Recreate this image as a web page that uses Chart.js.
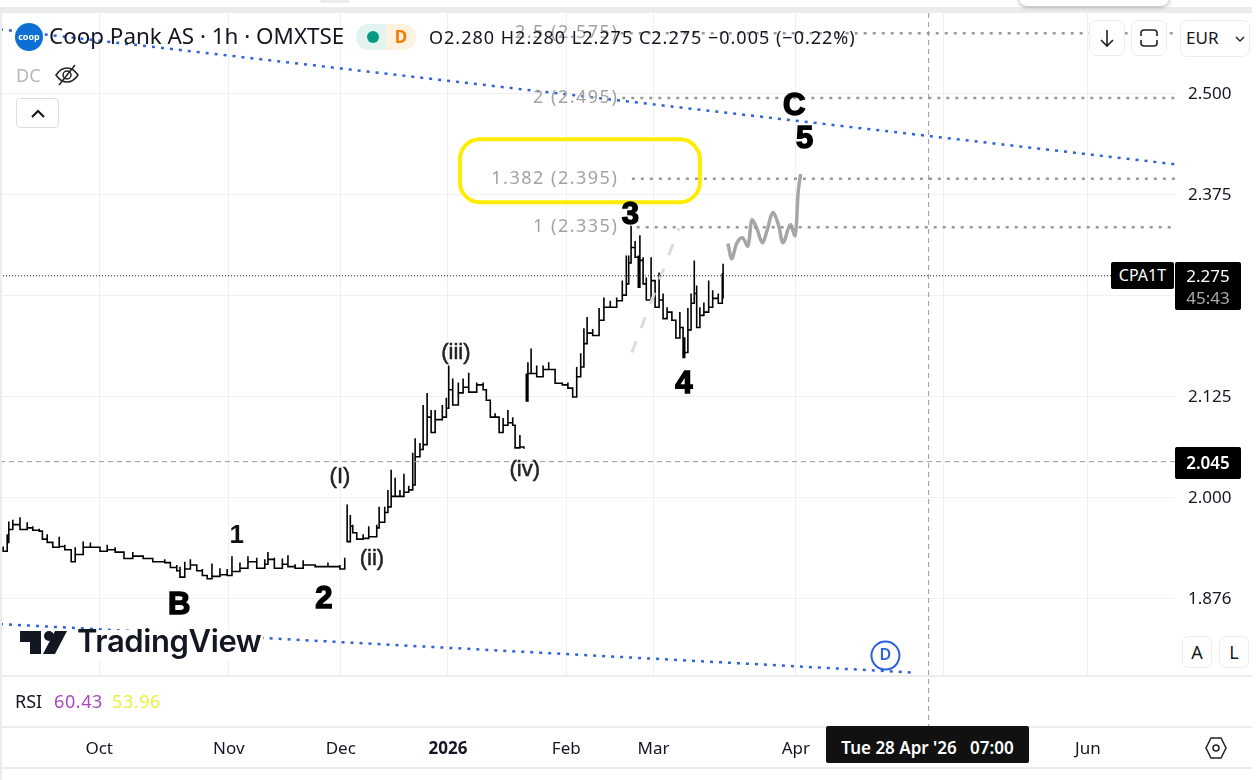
<!DOCTYPE html>
<html>
<head>
<meta charset="utf-8">
<title>Coop Pank AS</title>
<script src="https://cdn.jsdelivr.net/npm/chart.js@4"></script>
<style>
  html, body { margin: 0; padding: 0; background: #fff; overflow: hidden; }
  body { width: 1259px; height: 780px; position: relative; font-family: "Noto Sans", sans-serif; color: #131722; }
  canvas { position: absolute; left: 0; top: 0; }
  .abs { position: absolute; white-space: nowrap; line-height: 1; }
  .band { position: absolute; background: #ececec; }
  .btn { position: absolute; box-sizing: border-box; background: #fff; border: 1px solid #ececec; border-radius: 7px; text-align: center; }
  .tag { position: absolute; background: #000; color: #fff; border-radius: 2px; box-sizing: border-box; text-align: center; white-space: nowrap; }
</style>
</head>
<body>
<canvas id="chart" width="1259" height="780"></canvas>

<!-- window edges and pane separators -->
<div class="band" style="left:0;top:7px;width:1252px;height:6px"></div>
<div class="band" style="left:0;top:7px;width:2px;height:773px"></div>
<div class="band" style="left:320px;top:0;width:30px;height:3px;border-radius:0 0 8px 8px"></div>
<div class="abs" style="left:1019px;top:-12px;width:150px;height:18px;background:#fff;border-radius:8px;box-shadow:0 1px 4px rgba(0,0,0,.35)"></div>
<div class="band" style="left:2px;top:675px;width:1250px;height:2px"></div>
<div class="band" style="left:2px;top:726px;width:1250px;height:2px"></div>
<div class="band" style="left:2px;top:767px;width:1250px;height:2px"></div>

<!-- header -->
<div class="abs" style="left:15px;top:23px;width:28px;height:28px;border-radius:50%;background:#0b6fd3;color:#fff;font-size:9px;font-weight:700;line-height:28px;text-align:center">coop</div>
<div class="abs" style="left:49px;top:25px;font-size:22.4px">Coop Pank AS · 1h · OMXTSE</div>
<div class="abs" style="left:356px;top:24px;width:30px;height:26px;background:#e3f3f0;border-radius:13px 0 0 13px"></div>
<div class="abs" style="left:386px;top:24px;width:30px;height:26px;background:#fdf1df;border-radius:0 13px 13px 0;color:#f57c00;font-size:17px;font-weight:700;line-height:26px;text-align:center">D</div>
<div class="abs" style="left:367px;top:31px;width:12px;height:12px;border-radius:50%;background:#089981"></div>
<div class="abs" style="left:429px;top:28px;font-size:18px;letter-spacing:1px">O2.280 H2.280 L2.275 C2.275 −0.005 (−0.22%)</div>
<div class="abs" style="left:16px;top:66px;font-size:18px;color:#b8b8b8">DC</div>
<svg class="abs" style="left:54px;top:62px" width="26" height="26" viewBox="0 0 26 26" fill="none" stroke="#222" stroke-width="1.5"><path d="M2 13c4-6 8-7 11-7s7 1 11 7c-4 6-8 7-11 7s-7-1-11-7z"/><circle cx="13" cy="13" r="4"/><path d="M5 23L21 3"/></svg>
<div class="btn" style="left:16px;top:98px;width:43px;height:30px;border-color:#ddd;border-radius:4px"><svg width="16" height="28" viewBox="0 0 16 28" fill="none" stroke="#111" stroke-width="2"><path d="M2 18l6-6 6 6"/></svg></div>

<!-- top right buttons -->
<div class="btn" style="left:1089px;top:20px;width:36px;height:36px"><svg width="20" height="34" viewBox="0 0 20 34" fill="none" stroke="#222" stroke-width="1.6"><path d="M10 9v16M4 19l6 6 6-6"/></svg></div>
<div class="btn" style="left:1131px;top:20px;width:36px;height:36px"><svg width="20" height="34" viewBox="0 0 20 34" fill="none" stroke="#222" stroke-width="1.6"><path d="M2 15v-3q0-3 3-3h10q3 0 3 3v3M2 19v3q0 3 3 3h10q3 0 3-3v-3"/></svg></div>
<div class="btn" style="left:1180px;top:20px;width:70px;height:37px;text-align:left;padding:8px 0 0 5px;font-size:17px;line-height:1">EUR<svg style="position:absolute;left:54px;top:14px" width="10" height="8" viewBox="0 0 10 8" fill="none" stroke="#222" stroke-width="1.5"><path d="M1 2l4 4 4-4"/></svg></div>

<!-- price tags -->
<div class="tag" style="left:1111px;top:262px;width:63px;height:27px;font-size:16px;line-height:27px">CPA1T</div>
<div class="tag" style="left:1175px;top:262px;width:66px;height:48px;font-size:17px;line-height:22px;padding-top:3px">2.275<br><span style="color:#aaa">45:43</span></div>
<div class="tag" style="left:1175px;top:447px;width:66px;height:32px;font-size:17px;line-height:32px;font-weight:600">2.045</div>

<!-- watermark -->
<div class="abs" style="left:18px;top:630px;width:245px;height:31px;background:#fff"></div>
<svg class="abs" style="left:20px;top:630px" width="48" height="25" viewBox="0 0 48 25" fill="#131722"><path d="M0 1h21v23H10V12H0z"/><circle cx="29" cy="6" r="5"/><path d="M35 1h12L35 24H23z"/></svg>
<div class="abs" style="left:77px;top:625px;font-family:Inter,sans-serif;font-size:31px;font-weight:600;letter-spacing:-.4px">TradingView</div>

<!-- small corner buttons -->
<div class="btn" style="left:1182px;top:636px;width:30px;height:32px;font-size:18px;line-height:31px">A</div>
<div class="btn" style="left:1219px;top:636px;width:30px;height:32px;font-size:18px;line-height:31px">L</div>

<!-- RSI legend -->
<div class="abs" style="left:15px;top:692px;font-size:18px">RSI</div>
<div class="abs" style="left:54px;top:692px;font-size:18px;letter-spacing:.6px;color:#ab47bc">60.43</div>
<div class="abs" style="left:112px;top:692px;font-size:18px;letter-spacing:.6px;color:#e9f03c">53.96</div>

<!-- crosshair time tag and settings -->
<div class="tag" style="left:826px;top:726px;width:203px;height:37px;font-size:17px;line-height:44px;background:#111;font-weight:600">Tue 28 Apr '26&nbsp;&nbsp;&nbsp;07:00</div>
<svg class="abs" style="left:1204px;top:736px" width="24" height="24" viewBox="0 0 24 24" fill="none" stroke="#222" stroke-width="1.5"><path d="M7 2h10l5 10-5 10H7L2 12z"/><circle cx="12" cy="12" r="3"/></svg>

<script>
// Time axis is in hourly bars, price axis in EUR
const barMin = 0;
const barMax = 1469;
const priceMin = 1.7809;
const priceMax = 2.6002;

const monthBars = [124, 286, 426, 560, 708, 817, 995, 1179, 1360];
const monthLabels = ["Oct", "Nov", "Dec", "2026", "Feb", "Mar", "Apr", "May", "Jun"];
const priceTicks = [1.875, 2.0, 2.125, 2.25, 2.375, 2.5];
const priceTickLabels = ["1.876", "2.000", "2.125", "2.250", "2.375", "2.500"];

// Price history: bar number, high, low
const bars = [4, 9, 11, 16, 25, 34, 41, 49, 53, 59, 66, 74, 81, 89, 94, 104, 113, 125, 134, 144, 155, 166, 179, 191, 206, 213, 221, 225, 231, 238, 246, 253, 259, 265, 275, 284, 290, 300, 310, 321, 331, 335, 343, 353, 360, 369, 379, 394, 410, 425, 431,
  434, 438, 441, 446, 454, 461, 471, 474, 481, 485, 489, 494, 500, 505, 511, 516, 519, 525, 529, 534, 539, 544, 553, 558, 561, 566, 573, 579, 586, 596, 604, 608, 613, 619, 624, 629, 635, 641, 644, 650, 655,
  658, 660, 664, 671, 679, 686, 694, 703, 710, 716, 721, 726, 730, 734, 741, 749, 755, 763, 771, 778, 783, 786, 789, 794, 798, 800, 804, 808, 814, 819, 824, 829, 834, 840, 845, 850, 854, 856, 860, 864, 868, 871, 875, 880, 886, 891, 898, 903, 904];
const highs = [1.940, 1.955, 1.971, 1.973, 1.976, 1.970, 1.965, 1.962, 1.958, 1.955, 1.945, 1.952, 1.942, 1.934, 1.939, 1.946, 1.945, 1.940, 1.942, 1.939, 1.933, 1.933, 1.929, 1.925, 1.924, 1.919, 1.917, 1.915, 1.921, 1.924, 1.917, 1.912, 1.905, 1.919, 1.913, 1.912, 1.928, 1.920, 1.928, 1.926, 1.924, 1.933, 1.926, 1.925, 1.929, 1.918, 1.923, 1.918, 1.920, 1.917, 1.926,
  1.992, 1.979, 1.967, 1.958, 1.955, 1.965, 1.967, 1.989, 1.989, 2.010, 2.035, 2.025, 2.010, 2.030, 2.015, 2.056, 2.074, 2.068, 2.115, 2.130, 2.109, 2.109, 2.115, 2.124, 2.164, 2.148, 2.143, 2.148, 2.155, 2.143, 2.143, 2.134, 2.115, 2.105, 2.100, 2.099, 2.109, 2.100, 2.090, 2.078, 2.063,
  2.154, 2.168, 2.185, 2.164, 2.164, 2.168, 2.158, 2.143, 2.143, 2.137, 2.162, 2.179, 2.210, 2.224, 2.209, 2.235, 2.248, 2.244, 2.248, 2.269, 2.300, 2.300, 2.337, 2.318, 2.300, 2.325, 2.298, 2.273, 2.298, 2.260, 2.279, 2.253, 2.236, 2.230, 2.220, 2.230, 2.199, 2.199, 2.235, 2.253, 2.294, 2.263, 2.236, 2.242, 2.269, 2.257, 2.253, 2.278, 2.290];
const lows = [1.934, 1.945, 1.961, 1.967, 1.961, 1.963, 1.960, 1.959, 1.949, 1.945, 1.939, 1.940, 1.936, 1.921, 1.930, 1.939, 1.939, 1.934, 1.936, 1.933, 1.925, 1.928, 1.925, 1.921, 1.920, 1.914, 1.910, 1.902, 1.912, 1.917, 1.910, 1.904, 1.900, 1.903, 1.905, 1.904, 1.909, 1.913, 1.921, 1.913, 1.918, 1.924, 1.913, 1.918, 1.915, 1.913, 1.917, 1.915, 1.915, 1.912, 1.915,
  1.946, 1.965, 1.957, 1.949, 1.950, 1.952, 1.963, 1.970, 1.982, 1.989, 2.002, 2.002, 2.002, 2.007, 2.010, 2.016, 2.051, 2.060, 2.066, 2.100, 2.081, 2.097, 2.100, 2.111, 2.134, 2.115, 2.130, 2.137, 2.131, 2.140, 2.134, 2.121, 2.100, 2.100, 2.081, 2.090, 2.093, 2.090, 2.062, 2.063, 2.061,
  2.120, 2.154, 2.154, 2.150, 2.159, 2.159, 2.142, 2.140, 2.136, 2.125, 2.150, 2.162, 2.191, 2.204, 2.201, 2.220, 2.236, 2.236, 2.244, 2.251, 2.265, 2.291, 2.310, 2.298, 2.261, 2.294, 2.265, 2.245, 2.269, 2.236, 2.245, 2.222, 2.230, 2.220, 2.198, 2.211, 2.174, 2.180, 2.208, 2.241, 2.253, 2.211, 2.226, 2.230, 2.236, 2.247, 2.241, 2.248, 2.273];
// the price jumps at these bars, no line joins them to the bar before
const gapBars = [434, 658];

// Hand drawn projection after the last bar
const forecastBars = [910, 915, 921, 928, 935, 940, 946, 953, 959, 966, 973, 979, 988, 994, 998, 1001];
const forecastPrices = [2.315, 2.296, 2.315, 2.322, 2.312, 2.344, 2.334, 2.316, 2.331, 2.353, 2.339, 2.316, 2.338, 2.325, 2.380, 2.401];
const guideBars = [790, 849];
const guidePrices = [2.180, 2.334];

// Fib levels
const fibPrices = [2.575, 2.495, 2.395, 2.335];
const fibStartBars = [776, 778, 790, 796];
const fibLabels = ["2.5 (2.575)", "2 (2.495)", "1.382 (2.395)", "1 (2.335)"];
const fibLabelEndBar = 773;

// Channel lines
const upperBars = [0, 1469];
const upperPrices = [2.580, 2.413];
const lowerBars = [0, 1141];
const lowerPrices = [1.844, 1.784];

const lastPrice = 2.275;
const crossPrice = 2.045;
const crossBar = 1161;

// Wave counts
const waveLabels = ["C", "5", "3", "4", "B", "2", "1", "(I)", "(ii)", "(iii)", "(iv)"];
const waveBars = [993, 1006, 788, 855, 224, 405, 296, 425, 465, 570, 656];
const wavePrices = [2.484, 2.444, 2.350, 2.140, 1.867, 1.874, 1.953, 2.026, 1.925, 2.180, 2.035];
const heavyWaves = ["C", "5", "3", "4", "B", "2"];

const boxBars = [575, 875];
const boxPrices = [2.444, 2.366];
const markerBar = 1107;
const markerPrice = 1.805;

function toPoints(xs, ys) {
    return xs.map((x, i) => ({ x: x, y: ys[i] }));
}

function levelLine(label, price, color, dash, width) {
    return {
        label: label,
        data: toPoints([barMin, barMax], [price, price]),
        borderColor: color,
        borderDash: dash,
        borderWidth: width
    };
}

// Each bar becomes a high to low stroke in one long line
function priceHistory() {
    const points = [];
    bars.forEach((bar, i) => {
        if (gapBars.includes(bar)) {
            points.push({ x: bar, y: null });
        }
        points.push({ x: bar, y: highs[i] });
        points.push({ x: bar, y: lows[i] });
    });
    return points;
}

// Draws what Chart.js has no dataset for: text labels, the yellow box, crosshair and marker
const annotations = {
    id: "annotations",
    afterDatasetsDraw(chart) {
        const ctx = chart.ctx;
        const x = chart.scales.x;
        const y = chart.scales.y;
        ctx.save();

        // crosshair runs on through the RSI pane
        ctx.strokeStyle = "#999";
        ctx.lineWidth = 1;
        ctx.setLineDash([5, 4]);
        ctx.beginPath();
        ctx.moveTo(x.getPixelForValue(crossBar), chart.chartArea.top);
        ctx.lineTo(x.getPixelForValue(crossBar), 726);
        ctx.stroke();
        ctx.setLineDash([]);

        // yellow box
        ctx.strokeStyle = "#ffec00";
        ctx.lineWidth = 4;
        ctx.beginPath();
        ctx.roundRect(x.getPixelForValue(boxBars[0]), y.getPixelForValue(boxPrices[0]),
            x.getPixelForValue(boxBars[1]) - x.getPixelForValue(boxBars[0]),
            y.getPixelForValue(boxPrices[1]) - y.getPixelForValue(boxPrices[0]), 20);
        ctx.stroke();

        // fib labels
        ctx.font = "18px 'Noto Sans'";
        ctx.letterSpacing = "1.5px";
        ctx.fillStyle = "#a3a3a3";
        ctx.textAlign = "right";
        ctx.textBaseline = "middle";
        fibLabels.forEach((text, i) => {
            ctx.fillText(text, x.getPixelForValue(fibLabelEndBar), y.getPixelForValue(fibPrices[i]));
        });
        ctx.letterSpacing = "0px";

        // wave counts
        ctx.textAlign = "center";
        waveLabels.forEach((text, i) => {
            const px = x.getPixelForValue(waveBars[i]);
            const py = y.getPixelForValue(wavePrices[i]);
            if (heavyWaves.includes(text)) {
                ctx.font = "bold 31px 'Liberation Sans'";
                ctx.fillStyle = "#000";
                ctx.strokeStyle = "#000";
                ctx.lineWidth = 1.5;
                ctx.strokeText(text, px, py);
            } else if (text === "1") {
                ctx.font = "bold 26px 'Liberation Sans'";
                ctx.fillStyle = "#111";
            } else {
                ctx.font = "22px 'Liberation Sans'";
                ctx.fillStyle = "#222";
                ctx.strokeStyle = "#222";
                ctx.lineWidth = 0.5;
                ctx.strokeText(text, px, py);
            }
            ctx.fillText(text, px, py);
        });

        // D marker on the lower channel line
        const mx = x.getPixelForValue(markerBar);
        const my = y.getPixelForValue(markerPrice);
        ctx.fillStyle = "#fff";
        ctx.strokeStyle = "#2962d9";
        ctx.lineWidth = 2;
        ctx.beginPath();
        ctx.arc(mx, my, 14, 0, Math.PI * 2);
        ctx.fill();
        ctx.stroke();
        ctx.fillStyle = "#2962d9";
        ctx.font = "600 16px 'Noto Sans'";
        ctx.fillText("D", mx, my);
        ctx.restore();
    }
};

new Chart(document.getElementById("chart"), {
    type: "line",
    data: {
        datasets: [
            levelLine("Last price", lastPrice, "#131722", [1, 2], 1),
            levelLine("Crosshair", crossPrice, "#999", [5, 4], 1),
            ...fibPrices.map((price, i) => ({
                label: fibLabels[i],
                data: toPoints([fibStartBars[i], barMax], [price, price]),
                borderColor: "#999",
                borderDash: [3, 6],
                borderWidth: 2.5
            })),
            {
                label: "Guide",
                data: toPoints(guideBars, guidePrices),
                borderColor: "#dcdcdc",
                borderDash: [12, 14],
                borderWidth: 3
            },
            {
                label: "CPA1T",
                data: priceHistory(),
                borderColor: "#000",
                borderWidth: 1.6,
                stepped: true,
                spanGaps: false
            },
            {
                label: "Forecast",
                data: toPoints(forecastBars, forecastPrices),
                borderColor: "#a6a6a6",
                borderWidth: 3.5,
                tension: 0.35
            },
            {
                label: "Upper channel",
                data: toPoints(upperBars, upperPrices),
                borderColor: "#2f62d8",
                borderDash: [3, 6],
                borderWidth: 2.5
            },
            {
                label: "Lower channel",
                data: toPoints(lowerBars, lowerPrices),
                borderColor: "#2f62d8",
                borderDash: [3, 6],
                borderWidth: 2.5
            }
        ]
    },
    plugins: [annotations],
    options: {
        responsive: false,
        animation: false,
        devicePixelRatio: 1,
        layout: { padding: { top: 13, left: 0, right: 0, bottom: 0 } },
        elements: { point: { radius: 0 }, line: { tension: 0 } },
        plugins: { legend: { display: false }, tooltip: { enabled: false } },
        scales: {
            x: {
                type: "linear",
                min: barMin,
                max: barMax,
                border: { display: false },
                grid: { color: "#f0f0f0", drawTicks: false },
                afterFit: (scale) => {
                    scale.height = 105;
                    scale.paddingLeft = 0;
                    scale.paddingRight = 0;
                },
                afterBuildTicks: (scale) => { scale.ticks = monthBars.map((bar) => ({ value: bar })); },
                ticks: {
                    autoSkip: false,
                    maxRotation: 0,
                    padding: 64,
                    color: "#131722",
                    font: (ctx) => ({
                        family: "'Noto Sans'",
                        size: 17,
                        weight: monthLabels[ctx.index] === "2026" ? "bold" : "normal"
                    }),
                    callback: (value, index) => monthLabels[index]
                }
            },
            y: {
                position: "right",
                min: priceMin,
                max: priceMax,
                border: { display: false },
                grid: { color: "#f0f0f0", drawTicks: false },
                afterFit: (scale) => {
                    scale.width = 84;
                    scale.paddingTop = 0;
                    scale.paddingBottom = 0;
                },
                afterBuildTicks: (scale) => { scale.ticks = priceTicks.map((price) => ({ value: price })); },
                ticks: {
                    padding: 13,
                    color: "#131722",
                    font: { family: "'Noto Sans'", size: 17 },
                    callback: (value, index) => priceTickLabels[index]
                }
            }
        }
    }
});
</script>
</body>
</html>
